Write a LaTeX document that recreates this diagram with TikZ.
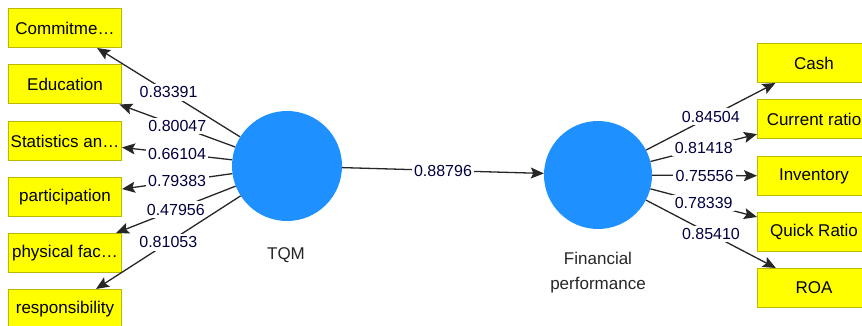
\documentclass[tikz,border=0pt]{standalone}
\usepackage{fontspec}
\setmainfont{Liberation Sans}
\usetikzlibrary{arrows.meta}
\definecolor{lvblue}{RGB}{30,144,255}
\definecolor{mvyellow}{RGB}{255,255,0}
\definecolor{mvborder}{RGB}{185,185,0}
\tikzstyle{latent}=[circle,fill=lvblue,draw=none,minimum size=110pt,inner sep=0pt]
\tikzstyle{indicator}=[rectangle,fill=mvyellow,draw=mvborder,line width=1pt,minimum width=113pt,minimum height=39pt,inner sep=0pt,font=\fontsize{17}{19}\selectfont]
\tikzstyle{loading}=[fill=white,inner sep=2.5pt,font=\fontsize{16}{18}\selectfont,text=black!75!blue]
\tikzstyle{link}=[-{Stealth[length=13pt,width=11pt,inset=2.5pt]},line width=1.3pt,draw=black!85]
\tikzstyle{lvlabel}=[align=center,font=\fontsize{17}{25}\selectfont,text=black!85]

\begin{document}
\begin{tikzpicture}[x=1pt,y=-1pt]

  \useasboundingbox (0,0) rectangle (862,326);

  % latent variables
  \node[latent] (tqm) at (287,166) {};
  \node[latent,minimum size=108pt] (fp) at (598,175) {};
  \node[lvlabel] (tqmlabel) at (286,255) {TQM};
  \node[lvlabel] (fplabel) at (598,273) {Financial\\performance};

  % indicators
  \foreach \pos/\name/\lbl in {{(65,28)/com/Commitme\ldots}, {(65,84.5)/edu/Education}, {(65,141)/sta/Statistics an\ldots}, {(65,197)/par/participation}, {(65,253)/phy/physical fac\ldots}, {(65,309)/res/responsibility}}
      \node[indicator] (\name) at \pos {\lbl};

  \foreach \pos/\name/\lbl in {{(814,63)/cash/Cash}, {(814,119.5)/cur/Current ratio}, {(814,176)/inv/Inventory}, {(814,232)/qui/Quick Ratio}, {(814,288)/roa/ROA}}
      \node[indicator] (\name) at \pos {\lbl};

  % loadings
  \foreach \dest/\weight in {com/0.83391, edu/0.80047, sta/0.66104, par/0.79383, phy/0.47956, res/0.81053}
      \draw[link] (tqm) -- node[loading]{\weight} (\dest);

  \foreach \dest/\weight in {cash/0.84504, cur/0.81418, inv/0.75556, qui/0.78339, roa/0.85410}
      \draw[link] (fp) -- node[loading]{\weight} (\dest);

  \draw[link] (tqm) -- node[loading]{0.88796} (fp);

\end{tikzpicture}
\end{document}
